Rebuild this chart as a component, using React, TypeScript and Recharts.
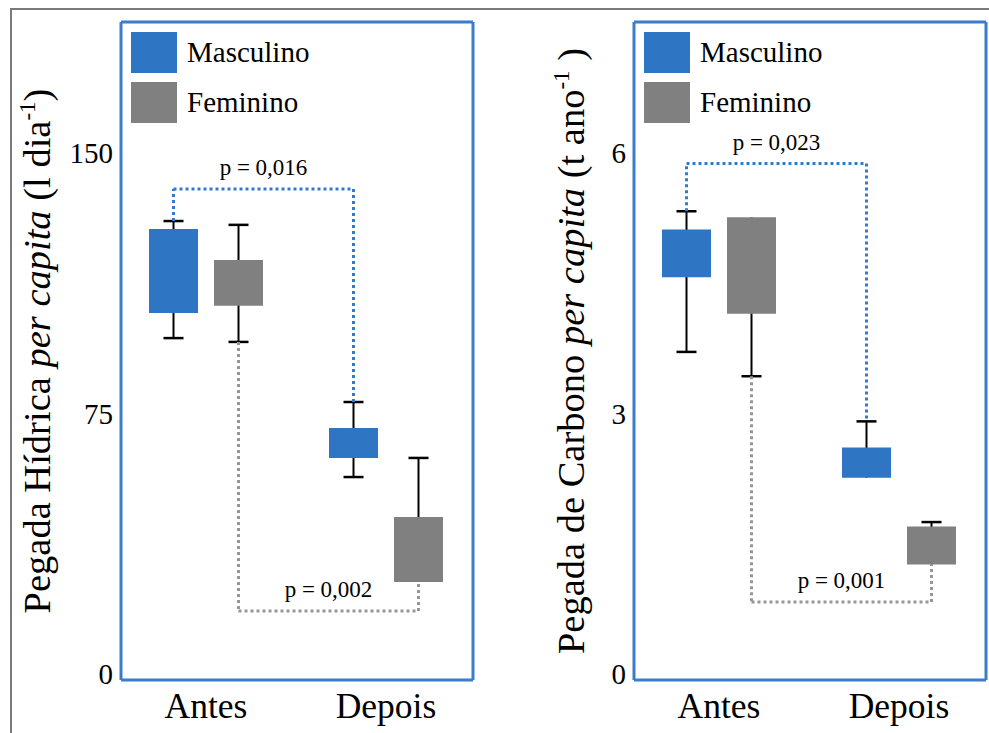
import { ComposedChart, Bar, XAxis, YAxis, ReferenceLine, Legend } from "recharts";

const FONT = '"Liberation Serif", "Times New Roman", Times, serif';

const categories = ["Antes", "Depois"];
const seriesNames = ["Masculino", "Feminino"];
const seriesColors = ["#2E75C3", "#808080"];
const bracketColors = ["#3479CC", "#969696"];
const FRAME = "#3A7DCD";

// Pegada Hídrica: boxes [Q1, Q3], whiskers [min, max]
const hidMascBox = [[103.9, 128.1], [62.2, 70.8]];
const hidMascWhisker = [[96.7, 130.4], [56.7, 78.3]];
const hidFemBox = [[106.0, 119.2], [26.5, 45.2]];
const hidFemWhisker = [[95.6, 129.3], [26.5, 62.2]];
const hidBracketLevels = [139.6, 18.1];
const hidPValues = ["p = 0,016", "p = 0,002"];
const hidTicks = [0, 75, 150];
const hidDomain = [-1.73, 187.7];

// Pegada de Carbono
const carbMascBox = [[4.57, 5.12], [2.26, 2.61]];
const carbMascWhisker = [[3.71, 5.33], [2.26, 2.91]];
const carbFemBox = [[4.15, 5.26], [1.26, 1.7]];
const carbFemWhisker = [[3.43, 5.26], [1.26, 1.75]];
const carbBracketLevels = [5.88, 0.83];
const carbPValues = ["p = 0,023", "p = 0,001"];
const carbTicks = [0, 3, 6];
const carbDomain = [-0.069, 7.51];

const BAR = 49;
const GAP = 16;
const SHIFT = (BAR + GAP) / 2;
const PAD = { left: -5, right: -3 };
const CAP = 20;

function buildRows(mBox: number[][], mW: number[][], fBox: number[][], fW: number[][]) {
  return categories.map((cat, i) => ({ cat, mBox: mBox[i], mW: mW[i], fBox: fBox[i], fW: fW[i] }));
}

const makeWhisker = (wKey: string, bKey: string) => (props: any) => {
  const { x, y, width, height, payload } = props;
  const cx = x + width / 2;
  const top = Math.min(y, y + height);
  const bottom = Math.max(y, y + height);
  const [lo, hi] = payload[wKey];
  const [q1, q3] = payload[bKey];
  return (
    <g>
      <line x1={cx} x2={cx} y1={top} y2={bottom} stroke="#000" strokeWidth={2} />
      {hi > q3 && <line x1={cx - CAP / 2} x2={cx + CAP / 2} y1={top} y2={top} stroke="#000" strokeWidth={2.5} />}
      {lo < q1 && <line x1={cx - CAP / 2} x2={cx + CAP / 2} y1={bottom} y2={bottom} stroke="#000" strokeWidth={2.5} />}
    </g>
  );
};

function YTitle({ viewBox, tx, parts }: any) {
  const cy = viewBox ? viewBox.y + viewBox.height / 2 : 351;
  return (
    <text
      x={tx}
      y={cy}
      transform={`rotate(-90, ${tx}, ${cy})`}
      textAnchor="middle"
      fontFamily={FONT}
      style={{ fontFamily: FONT }}
      fontSize={38.5}
      fill="#000"
    >
      {parts.main}
      <tspan fontStyle="italic">{parts.italic}</tspan>
      {parts.unit}
      <tspan dy={-15} fontSize={23}>{parts.sup}</tspan>
      <tspan dy={15}>{parts.close}</tspan>
    </text>
  );
}

function LegendBox() {
  return (
    <div style={{ fontFamily: FONT, fontSize: 29, color: "#000" }}>
      {seriesNames.map((name, i) => (
        <div key={name} style={{ display: "flex", alignItems: "center", height: 41, marginBottom: 9 }}>
          <span style={{ display: "inline-block", width: 46, height: 41, background: seriesColors[i] }} />
          <span style={{ marginLeft: 10 }}>{name}</span>
        </div>
      ))}
    </div>
  );
}

function Panel({ rows, yDomain, yTicks, levels, pValues, title, titleX, axisWidth, width, marginRight, legendLeft }: any) {
  const frameLine = { stroke: FRAME, strokeWidth: 3 };
  const blue = [rows[0].mW[1], rows[1].mW[1]];
  const gray = [rows[0].fW[0], rows[1].fW[0]];
  const dotted = { strokeWidth: 3, strokeDasharray: "3 3", ifOverflow: "visible" as const };
  const pLabel = (value: string) => ({ value, position: "top" as const, offset: 14, fontSize: 23, fontFamily: FONT, fill: "#000" });
  const [a, d] = categories;
  return (
    <ComposedChart width={width} height={733} data={rows} margin={{ top: 21, right: marginRight - 1, bottom: 0, left: 0 }} barSize={BAR} barGap={GAP}>
      <XAxis
        xAxisId="box"
        dataKey="cat"
        height={53}
        padding={PAD}
        interval={0}
        tickLine={false}
        tickMargin={7}
        axisLine={frameLine}
        tick={{ fontSize: 35.5, fontFamily: FONT, fill: "#000" }}
      />
      <XAxis xAxisId="wh" dataKey="cat" hide height={0} padding={PAD} />
      <XAxis xAxisId="bm" dataKey="cat" hide height={0} padding={{ left: PAD.left - SHIFT, right: PAD.right + SHIFT }} />
      <XAxis xAxisId="bf" dataKey="cat" hide height={0} padding={{ left: PAD.left + SHIFT, right: PAD.right - SHIFT }} />
      <XAxis xAxisId="top" orientation="top" dataKey="cat" height={1} tick={false} tickLine={false} axisLine={frameLine} />
      <YAxis
        domain={yDomain}
        ticks={yTicks}
        width={axisWidth}
        tickLine={false}
        axisLine={frameLine}
        tick={{ fontSize: 29, fontFamily: FONT, fill: "#000" }}
        label={<YTitle tx={titleX} parts={title} />}
      />
      <YAxis yAxisId="right" orientation="right" width={1} tick={false} tickLine={false} axisLine={frameLine} />

      <Bar xAxisId="wh" dataKey="mW" barSize={BAR} shape={makeWhisker("mW", "mBox")} isAnimationActive={false} legendType="none" />
      <Bar xAxisId="wh" dataKey="fW" barSize={BAR} shape={makeWhisker("fW", "fBox")} isAnimationActive={false} legendType="none" />
      <Bar xAxisId="box" dataKey="mBox" barSize={BAR} fill={seriesColors[0]} isAnimationActive={false} />
      <Bar xAxisId="box" dataKey="fBox" barSize={BAR} fill={seriesColors[1]} isAnimationActive={false} />

      <ReferenceLine xAxisId="bm" segment={[{ x: a, y: blue[0] }, { x: a, y: levels[0] }]} stroke={bracketColors[0]} {...dotted} />
      <ReferenceLine xAxisId="bm" segment={[{ x: a, y: levels[0] }, { x: d, y: levels[0] }]} stroke={bracketColors[0]} {...dotted} label={pLabel(pValues[0])} />
      <ReferenceLine xAxisId="bm" segment={[{ x: d, y: levels[0] }, { x: d, y: blue[1] }]} stroke={bracketColors[0]} {...dotted} />

      <ReferenceLine xAxisId="bf" segment={[{ x: a, y: gray[0] }, { x: a, y: levels[1] }]} stroke={bracketColors[1]} {...dotted} />
      <ReferenceLine xAxisId="bf" segment={[{ x: a, y: levels[1] }, { x: d, y: levels[1] }]} stroke={bracketColors[1]} {...dotted} label={pLabel(pValues[1])} />
      <ReferenceLine xAxisId="bf" segment={[{ x: d, y: levels[1] }, { x: d, y: gray[1] }]} stroke={bracketColors[1]} {...dotted} />

      <Legend
        layout="vertical"
        align="center"
        verticalAlign="middle"
        wrapperStyle={{ top: 32, left: legendLeft, width: 220, height: 95 }}
        content={() => <LegendBox />}
      />
    </ComposedChart>
  );
}

export default function App() {
  const hidRows = buildRows(hidMascBox, hidMascWhisker, hidFemBox, hidFemWhisker);
  const carbRows = buildRows(carbMascBox, carbMascWhisker, carbFemBox, carbFemWhisker);
  return (
    <div style={{ position: "absolute", left: 0, top: 0, width: 989, height: 733, overflow: "hidden", background: "#fff" }}>
      <div style={{ position: "absolute", left: 10, top: 8, width: 1000, height: 800, borderLeft: "2px solid #7a7a7a", borderTop: "2px solid #7a7a7a" }} />
      <div style={{ position: "absolute", left: 0, top: 0 }}>
        <Panel
          rows={hidRows}
          yDomain={hidDomain}
          yTicks={hidTicks}
          levels={hidBracketLevels}
          pValues={hidPValues}
          title={{ main: "Pegada Hídrica ", italic: "per capita", unit: " (l dia", sup: "-1", close: ")" }}
          titleX={50}
          axisWidth={121}
          width={480}
          marginRight={7}
          legendLeft={131}
        />
      </div>
      <div style={{ position: "absolute", left: 500, top: 0 }}>
        <Panel
          rows={carbRows}
          yDomain={carbDomain}
          yTicks={carbTicks}
          levels={carbBracketLevels}
          pValues={carbPValues}
          title={{ main: "Pegada de Carbono ", italic: "per capita", unit: " (t ano", sup: "-1", close: " )" }}
          titleX={84}
          axisWidth={134}
          width={489}
          marginRight={3}
          legendLeft={144}
        />
      </div>
    </div>
  );
}
